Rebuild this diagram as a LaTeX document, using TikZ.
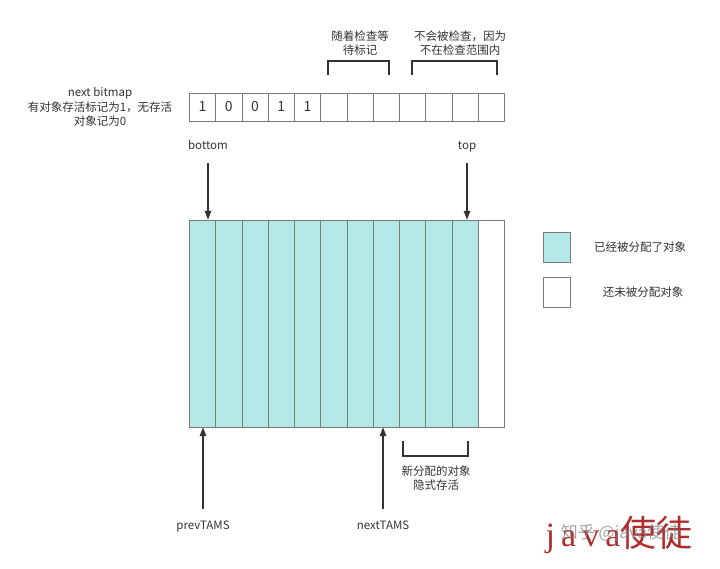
\documentclass[tikz,border=0pt]{standalone}
\usepackage{fontspec}
\setmainfont{Noto Sans CJK SC}
\newfontfamily\latinserif{Liberation Serif}[LetterSpace=18]
\usetikzlibrary{arrows.meta}
\definecolor{ink}{HTML}{333333}
\definecolor{grid}{HTML}{7A7A7A}
\definecolor{used}{HTML}{B4E9E8}
\definecolor{mark}{HTML}{B22B2B}
\tikzset{
  txt/.style={font=\fontsize{11.5}{14.5}\selectfont, text=ink, align=center, inner sep=1pt},
  tag/.style={txt, text height=1.6ex, text depth=.5ex},
  bitcell/.style={draw=grid, minimum width=26.25pt, minimum height=28.5pt, inner sep=0pt,
                  font=\fontsize{14}{14}\selectfont, text=ink},
  heapcell/.style={draw=grid, fill=used, minimum width=26.25pt, minimum height=207pt, inner sep=0pt},
  ptr/.style={draw=ink, line width=1.3pt, -{Triangle[length=9pt,width=6.5pt]}},
  brace/.style={draw=ink, line width=1.3pt},
}
\begin{document}
\begin{tikzpicture}[x=1pt,y=-1pt]
  \useasboundingbox (0,0) rectangle (720,568);

  % next bitmap
  \node[txt] (bitmaplbl) at (100,107) {next bitmap\\有对象存活标记为1，无存活\\对象记为0};
  \foreach \i/\v in {1/1,2/0,3/0,4/1,5/1}
    \node[bitcell] (b\i) at ({189.3+26.25*(\i-0.5)},107) {\v};
  \foreach \i in {6,...,12}
    \node[bitcell] (b\i) at ({189.3+26.25*(\i-0.5)},107) {};

  % brackets above the bitmap
  \coordinate (waitL) at (328,75);
  \coordinate (waitR) at (389,75);
  \draw[brace] (waitL) -- ++(0,-14) -| (waitR);
  \node[txt] (waitlbl) at (360,43) {随着检查等\\待标记};
  \coordinate (skipL) at (412,75);
  \coordinate (skipR) at (497,75);
  \draw[brace] (skipL) -- ++(0,-14) -| (skipR);
  \node[txt] (skiplbl) at (460,43) {不会被检查，因为\\不在检查范围内};

  % heap region
  \foreach \i in {1,...,11}
    \node[heapcell] (h\i) at ({189.3+26.25*(\i-0.5)},323.5) {};
  \node[heapcell, fill=white] (h12) at ({189.3+26.25*11.5},323.5) {};

  % pointers
  \node[tag] (bottom) at (208,147) {bottom};
  \node[tag] (top) at (467,147) {top};
  \draw[ptr, shorten <=9pt] (bottom) -- (bottom |- h1.north);
  \draw[ptr, shorten <=9pt] (top) -- (top |- h11.north);

  \node[tag] (prevtams) at (203,527) {prevTAMS};
  \node[tag] (nexttams) at (383,527) {nextTAMS};
  \draw[ptr, shorten <=11pt] (prevtams) -- (prevtams |- h1.south);
  \draw[ptr, shorten <=11pt] (nexttams) -- (nexttams |- h8.south);

  % bracket below the heap
  \coordinate (newL) at (403,441);
  \coordinate (newR) at (468,441);
  \draw[brace] (newL) -- ++(0,15) -| (newR);
  \node[txt] (newlbl) at (436,478) {新分配的对象\\隐式存活};

  % legend
  \node[heapcell, minimum width=27pt, minimum height=30pt] (keyused) at (556.5,247) {};
  \node[txt] (keyusedlbl) at (640,247) {已经被分配了对象};
  \node[heapcell, fill=white, minimum width=27pt, minimum height=30pt] (keyfree) at (556.5,292.5) {};
  \node[txt] (keyfreelbl) at (643,292) {还未被分配对象};

  % watermark
  \node[text=mark, inner sep=0pt] (wm) at (619,535)
    {{\latinserif\fontsize{34}{34}\selectfont java}{\fontsize{36}{36}\selectfont 使徒}};
  \node[text=gray, opacity=.7, inner sep=0pt, font=\fontsize{17}{17}\selectfont] (wmsite) at (621,533) {知乎 @java使徒};
\end{tikzpicture}
\end{document}
